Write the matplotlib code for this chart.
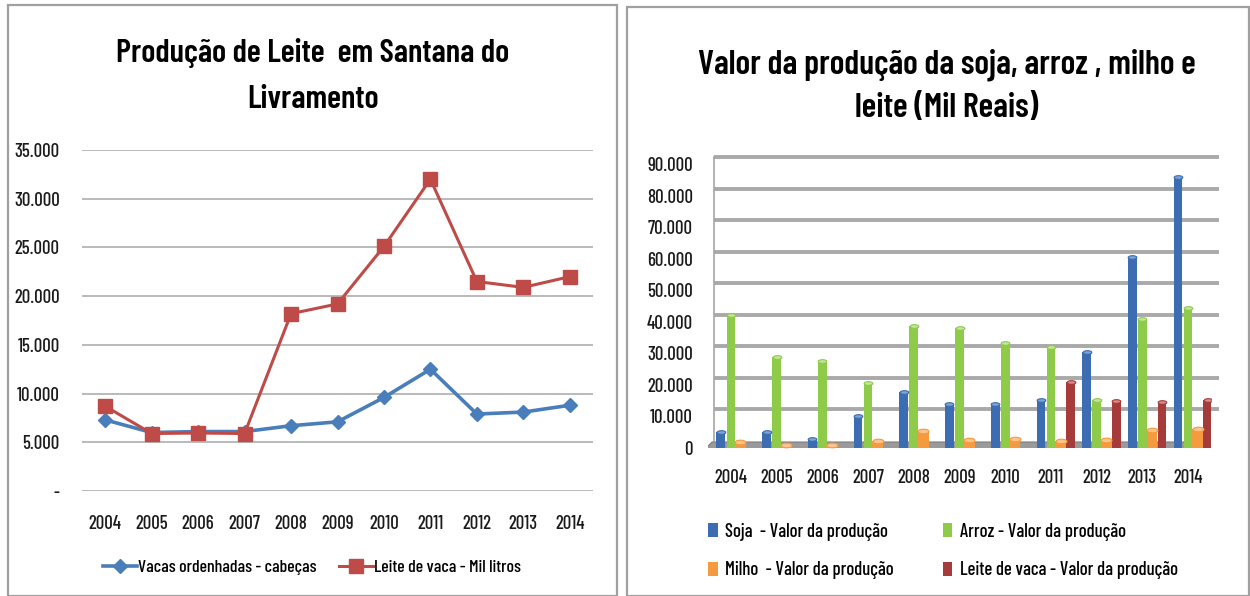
import matplotlib
matplotlib.use("Agg")
import matplotlib.pyplot as plt
import numpy as np
import matplotlib.transforms as mtransforms
from matplotlib.patches import Rectangle, Polygon
from matplotlib.path import Path
from matplotlib.ticker import FuncFormatter

FONT = ['Barlow Condensed', 'Liberation Sans Narrow', 'DejaVu Sans']
plt.rcParams['font.family'] = FONT
plt.rcParams['font.weight'] = 500

# ---------------- data ----------------
years = ['2004', '2005', '2006', '2007', '2008', '2009', '2010', '2011', '2012', '2013', '2014']

vacas_ordenhadas = [7300, 6000, 6100, 6100, 6700, 7100, 9600, 12500, 7900, 8100, 8800]
leite_mil_litros = [8700, 5900, 5950, 5900, 18200, 19200, 25100, 32000, 21500, 20900, 22000]

soja_valor = [5000, 5000, 3000, 10200, 17900, 13800, 13800, 15300, 30500, 60500, 86000]
arroz_valor = [42100, 28800, 27700, 20600, 38700, 38000, 33300, 32100, 15300, 41000, 44300]
milho_valor = [2000, 1100, 1100, 2300, 5500, 2600, 3000, 2300, 2600, 5700, 6000]
leite_valor = [0, 0, 0, 0, 0, 0, 0, 21000, 14900, 14700, 15200]

left_yticks = [0, 5000, 10000, 15000, 20000, 25000, 30000, 35000]
right_yticks = [0, 10000, 20000, 30000, 40000, 50000, 60000, 70000, 80000, 90000]

W, H = 1250, 596
fig = plt.figure(figsize=(W / 100, H / 100), dpi=100)


def fx(px):
    return px / W


def fy(py):
    return 1 - py / H


def thousands(v, pos=None):
    if v == 0:
        return '-'
    return f"{int(v):,}".replace(',', '.')


def thousands0(v, pos=None):
    return f"{int(v):,}".replace(',', '.')


# panel borders
for x0, x1, y0 in [(8, 617, 5), (627, 1249, 7)]:
    fig.add_artist(Rectangle((fx(x0), 0), fx(x1) - fx(x0), fy(y0), transform=fig.transFigure,
                             fill=False, edgecolor='#a0a0a0', linewidth=1.6))

BLUE = '#4A7EBB'
RED = '#BE4B48'

# ---------------- left chart ----------------
axL = fig.add_axes([fx(82), fy(491), fx(593) - fx(82), fy(150) - fy(491)])
x = np.arange(len(years))
axL.plot(x, vacas_ordenhadas, color=BLUE, lw=2.6, marker='D', markersize=7.5,
         label='Vacas ordenhadas - cabeças')
axL.plot(x, leite_mil_litros, color=RED, lw=2.2, marker='s', markersize=9.5,
         label='Leite de vaca - Mil litros')
axL.set_xlim(-0.5, len(years) - 0.5)
axL.set_ylim(0, 35000)
axL.set_yticks(left_yticks)
axL.yaxis.set_major_formatter(FuncFormatter(thousands))
axL.set_xticks(x)
axL.set_xticklabels(years)
axL.grid(axis='y', color='#b4b4b4', lw=1.3)
axL.set_axisbelow(True)
for s in axL.spines.values():
    s.set_visible(False)
axL.tick_params(length=0, labelsize=13.5, colors='#1a1a1a')
axL.tick_params(axis='y', pad=16)
axL.tick_params(axis='x', pad=17)

TITLE_KW = dict(ha='center', va='center', fontweight=600, color='black')
fig.text(fx(313), fy(53), 'Produção de Leite  em Santana do', fontsize=23.5, **TITLE_KW)
fig.text(fx(313), fy(100), 'Livramento', fontsize=23.5, **TITLE_KW)

hL, lL = axL.get_legend_handles_labels()
fig.legend(hL, lL, loc='center', bbox_to_anchor=(fx(312), fy(567)), ncol=2, frameon=False,
           fontsize=12.8, handlelength=1.9, handletextpad=0.05, columnspacing=1.3)

# ---------------- right chart ----------------
axR = fig.add_axes([fx(708), fy(448), fx(1211) - fx(708), fy(164) - fy(448)])
axR.set_xlim(-0.5, len(years) - 0.5)
axR.set_ylim(0, 90000)

# 3D-like back wall gridlines (offset upward) and floor
off = mtransforms.ScaledTranslation(6 / 100, 7 / 100, fig.dpi_scale_trans)
for v in right_yticks[1:]:
    axR.plot([-0.5, len(years) - 0.5 + 0.05], [v, v], color='#a9a9a9', lw=2.8,
             transform=axR.transData + off, clip_on=False, zorder=0.5,
             solid_capstyle='butt')
axR.plot([-0.5, -0.5], [0, 90000], color='#a6a6a6', lw=1.2, transform=axR.transData + off,
         clip_on=False, zorder=0.5)
floor = Polygon([(fx(702), fy(452)), (fx(1214), fy(452)), (fx(1224), fy(442)), (fx(712), fy(442))],
                closed=True, transform=fig.transFigure, facecolor='#9a9a9a', edgecolor='#7f7f7f',
                lw=0.8, zorder=0.6)
axR.add_artist(floor)

# flat ellipse marker used as the cylinder cap
t = np.linspace(0, 2 * np.pi, 40)
ellipse = Path(np.column_stack([np.cos(t), 0.42 * np.sin(t)]))

offsets = [-0.22, 0.0, 0.21, 0.43]
widths = [0.19, 0.19, 0.24, 0.19]
series = [
    (soja_valor, '#3C6DB2', '#7FA3D6', 'Soja  - Valor da produção'),
    (arroz_valor, '#8DCB48', '#C4E69C', 'Arroz - Valor da produção'),
    (milho_valor, '#F59A3E', '#FAC48C', 'Milho  - Valor da produção'),
    (leite_valor, '#A63B3B', '#D98A8A', 'Leite de vaca - Valor da produção'),
]
handles = []
for (vals, col, capcol, lab), o, w in zip(series, offsets, widths):
    b = axR.bar(x + o, vals, width=w, color=col, edgecolor='none', zorder=2, label=lab)
    handles.append(b)
    vals_arr = np.array(vals, dtype=float)
    mask = vals_arr > 0
    axR.scatter((x + o)[mask], vals_arr[mask], marker=ellipse, s=(w * 45.7 * 0.72) ** 2,
                facecolor=capcol, edgecolor=col, linewidths=0.8, zorder=3)

axR.set_yticks(right_yticks)
axR.yaxis.set_major_formatter(FuncFormatter(thousands0))
axR.set_xticks(x)
axR.set_xticklabels(years)
for s in axR.spines.values():
    s.set_visible(False)
axR.tick_params(length=0, labelsize=13.5, colors='#1a1a1a')
axR.tick_params(axis='y', pad=11)
axR.tick_params(axis='x', pad=15)

fig.text(fx(947), fy(65), 'Valor da produção da soja, arroz , milho e', fontsize=24.5, **TITLE_KW)
fig.text(fx(947), fy(108), 'leite (Mil Reais)', fontsize=24.5, **TITLE_KW)

order = [0, 2, 1, 3]
fig.legend([handles[i] for i in order], [series[i][3] for i in order], loc='center',
           bbox_to_anchor=(fx(943), fy(551)), ncol=2, frameon=False, fontsize=13.5,
           handlelength=0.5, handleheight=0.8, handletextpad=0.4, columnspacing=2.6,
           labelspacing=1.1)

fig.savefig('out.png', dpi=100)
